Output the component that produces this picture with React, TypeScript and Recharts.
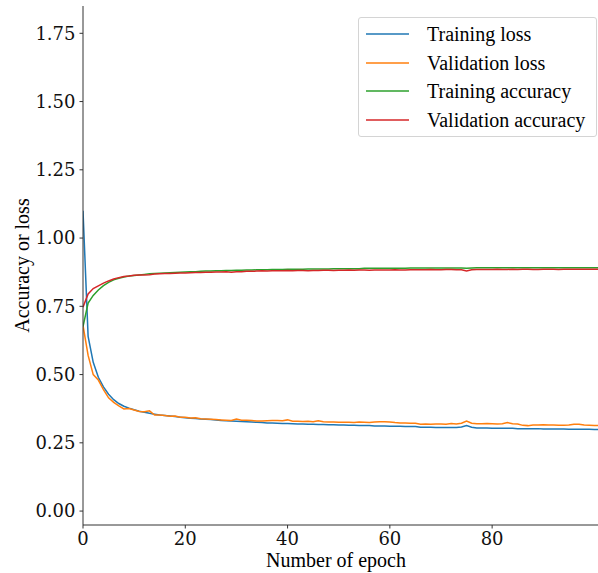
import React from 'react';
import { LineChart, Line, XAxis, YAxis, Legend } from 'recharts';

const epochs: number[] = Array.from({ length: 102 }, (_, i) => i);

const trainingLoss: number[] = [
  1.100, 0.640, 0.545, 0.490, 0.455, 0.428, 0.408, 0.394, 0.384, 0.377,
  0.371, 0.366, 0.362, 0.358, 0.355, 0.352, 0.350, 0.348, 0.346, 0.344,
  0.342, 0.340, 0.339, 0.337, 0.336, 0.335, 0.334, 0.332, 0.331, 0.330,
  0.329, 0.328, 0.327, 0.326, 0.325, 0.324, 0.323, 0.323, 0.322, 0.321,
  0.321, 0.320, 0.319, 0.319, 0.318, 0.318, 0.317, 0.317, 0.316, 0.316,
  0.315, 0.315, 0.314, 0.314, 0.313, 0.313, 0.313, 0.312, 0.312, 0.312,
  0.311, 0.311, 0.311, 0.310, 0.310, 0.310, 0.307, 0.307, 0.307, 0.306,
  0.306, 0.306, 0.306, 0.306, 0.308, 0.313, 0.307, 0.304, 0.304, 0.304,
  0.303, 0.303, 0.303, 0.303, 0.303, 0.302, 0.302, 0.302, 0.302, 0.302,
  0.301, 0.301, 0.301, 0.301, 0.301, 0.300, 0.300, 0.300, 0.300, 0.300,
  0.299, 0.299,
];

const validationLoss: number[] = [
  0.680, 0.570, 0.500, 0.480, 0.445, 0.415, 0.398, 0.385, 0.374, 0.376,
  0.370, 0.365, 0.364, 0.367, 0.352, 0.352, 0.350, 0.347, 0.348, 0.344,
  0.344, 0.341, 0.342, 0.338, 0.337, 0.336, 0.335, 0.334, 0.333, 0.332,
  0.337, 0.333, 0.333, 0.332, 0.330, 0.330, 0.331, 0.332, 0.332, 0.331,
  0.334, 0.329, 0.329, 0.328, 0.329, 0.327, 0.331, 0.327, 0.326, 0.326,
  0.325, 0.325, 0.325, 0.324, 0.326, 0.325, 0.324, 0.326, 0.327, 0.327,
  0.326, 0.324, 0.323, 0.323, 0.322, 0.322, 0.318, 0.319, 0.318, 0.319,
  0.319, 0.318, 0.321, 0.319, 0.322, 0.330, 0.322, 0.320, 0.320, 0.321,
  0.320, 0.319, 0.320, 0.324, 0.320, 0.319, 0.314, 0.313, 0.315, 0.315,
  0.316, 0.315, 0.315, 0.314, 0.314, 0.315, 0.318, 0.318, 0.315, 0.314,
  0.313, 0.313,
];

const trainingAccuracy: number[] = [
  0.676, 0.762, 0.790, 0.810, 0.826, 0.838, 0.847, 0.853, 0.857, 0.861,
  0.863, 0.865, 0.867, 0.869, 0.870, 0.871, 0.872, 0.873, 0.874, 0.875,
  0.876, 0.877, 0.877, 0.878, 0.879, 0.879, 0.880, 0.880, 0.881, 0.881,
  0.882, 0.882, 0.883, 0.883, 0.884, 0.884, 0.884, 0.885, 0.885, 0.885,
  0.886, 0.886, 0.886, 0.886, 0.887, 0.887, 0.887, 0.887, 0.887, 0.888,
  0.888, 0.888, 0.888, 0.888, 0.888, 0.889, 0.889, 0.889, 0.889, 0.889,
  0.889, 0.889, 0.889, 0.889, 0.890, 0.890, 0.890, 0.890, 0.890, 0.890,
  0.890, 0.890, 0.890, 0.890, 0.890, 0.889, 0.890, 0.891, 0.891, 0.891,
  0.891, 0.891, 0.891, 0.891, 0.891, 0.891, 0.891, 0.891, 0.891, 0.891,
  0.891, 0.891, 0.891, 0.891, 0.891, 0.891, 0.891, 0.891, 0.891, 0.891,
  0.891, 0.891,
];

const validationAccuracy: number[] = [
  0.747, 0.795, 0.815, 0.825, 0.835, 0.843, 0.850, 0.855, 0.859, 0.861,
  0.864, 0.865, 0.865, 0.866, 0.868, 0.869, 0.870, 0.870, 0.871, 0.872,
  0.872, 0.873, 0.874, 0.874, 0.875, 0.875, 0.876, 0.876, 0.877, 0.875,
  0.877, 0.877, 0.878, 0.878, 0.879, 0.880, 0.879, 0.880, 0.880, 0.880,
  0.881, 0.880, 0.881, 0.881, 0.880, 0.881, 0.881, 0.882, 0.882, 0.881,
  0.882, 0.882, 0.883, 0.882, 0.883, 0.883, 0.882, 0.883, 0.883, 0.883,
  0.883, 0.884, 0.883, 0.883, 0.884, 0.884, 0.884, 0.884, 0.885, 0.884,
  0.884, 0.885, 0.885, 0.884, 0.884, 0.879, 0.884, 0.885, 0.885, 0.885,
  0.885, 0.886, 0.885, 0.885, 0.886, 0.885, 0.886, 0.886, 0.885, 0.885,
  0.886, 0.886, 0.886, 0.885, 0.886, 0.886, 0.886, 0.886, 0.886, 0.886,
  0.886, 0.886,
];

const xTicks: number[] = [0, 20, 40, 60, 80];
const yTicks: number[] = [0, 0.25, 0.5, 0.75, 1.0, 1.25, 1.5, 1.75];

const seriesNames: string[] = ['Training loss', 'Validation loss', 'Training accuracy', 'Validation accuracy'];
const seriesKeys: string[] = ['trainLoss', 'valLoss', 'trainAcc', 'valAcc'];
const seriesColors: string[] = ['#1f77b4', '#ff7f0e', '#2ca02c', '#d62728'];

const data = epochs.map((e, i) => ({
  epoch: e,
  trainLoss: trainingLoss[i],
  valLoss: validationLoss[i],
  trainAcc: trainingAccuracy[i],
  valAcc: validationAccuracy[i],
}));

const SERIF = '"Liberation Serif", "Times New Roman", serif';
const TICK_FONT = '"DejaVu Serif", serif';

const LegendBox = () => (
  <div
    style={{
      width: 239,
      height: 120,
      boxSizing: 'border-box',
      border: '1px solid #d4d4d4',
      borderRadius: 3,
      background: 'rgba(255,255,255,0.85)',
      position: 'relative',
    }}
  >
    {seriesNames.map((n, i) => (
      <div
        key={n}
        style={{
          position: 'absolute',
          left: 0,
          top: 2 + i * 28.6,
          height: 28,
          display: 'flex',
          alignItems: 'center',
        }}
      >
        <svg width={60} height={28} style={{ display: 'block' }}>
          <line x1={7} x2={50} y1={14} y2={14} stroke={seriesColors[i]} strokeWidth={1.5} />
        </svg>
        <span
          style={{
            marginLeft: 8,
            fontFamily: SERIF,
            fontSize: 20,
            color: '#000',
            whiteSpace: 'nowrap',
            lineHeight: '28px',
          }}
        >
          {n}
        </span>
      </div>
    ))}
  </div>
);

const YLabel = (props: any) => {
  const vb = props.viewBox || { x: 0, y: 6, width: 83, height: 519 };
  const cx = 22;
  const cy = vb.y + vb.height / 2;
  return (
    <text
      x={cx}
      y={cy}
      transform={`rotate(-90, ${cx}, ${cy})`}
      textAnchor="middle"
      dominantBaseline="central"
      fontFamily={SERIF}
      fontSize={20}
      fill="#000"
    >
      Accuracy or loss
    </text>
  );
};

const XLabel = () => (
  <text x={336} y={567} textAnchor="middle" fontFamily={SERIF} fontSize={20} fill="#000">
    Number of epoch
  </text>
);

export default function App() {
  return (
    <div style={{ position: 'absolute', left: 0, top: 0, width: 598, height: 573, background: '#fff' }}>
      <LineChart
        width={598}
        height={573}
        data={data}
        margin={{ top: 6, right: 0, left: 0, bottom: 0 }}
      >
        <XAxis
          xAxisId="top"
          orientation="top"
          dataKey="epoch"
          type="number"
          domain={[0, 100.7]}
          allowDataOverflow
          height={0}
          tick={false}
          tickLine={false}
          axisLine={{ stroke: '#333', strokeWidth: 1 }}
        />
        <XAxis
          dataKey="epoch"
          type="number"
          domain={[0, 100.7]}
          allowDataOverflow
          ticks={xTicks}
          height={48}
          tickSize={3.5}
          tickMargin={3.7}
          tickLine={{ stroke: '#333', strokeWidth: 1 }}
          axisLine={{ stroke: '#333', strokeWidth: 1 }}
          tick={{ fontFamily: TICK_FONT, fontSize: 18, fill: '#111' }}
          label={<XLabel />}
        />
        <YAxis
          type="number"
          domain={[-0.051, 1.85]}
          allowDataOverflow
          ticks={yTicks}
          width={83}
          tickSize={3.5}
          tickMargin={4}
          tickFormatter={(v: number) => v.toFixed(2)}
          tickLine={{ stroke: '#333', strokeWidth: 1 }}
          axisLine={{ stroke: '#333', strokeWidth: 1 }}
          tick={{ fontFamily: TICK_FONT, fontSize: 18, fill: '#111' }}
          label={<YLabel />}
        />
        {seriesKeys.map((k, i) => (
          <Line
            key={k}
            dataKey={k}
            name={seriesNames[i]}
            stroke={seriesColors[i]}
            strokeWidth={1.5}
            dot={false}
            activeDot={false}
            type="linear"
            isAnimationActive={false}
          />
        ))}
        <Legend
          layout="vertical"
          align="center"
          verticalAlign="middle"
          content={() => <LegendBox />}
          wrapperStyle={{ position: 'absolute', left: 358, top: 17, width: 239, height: 120 }}
        />
      </LineChart>
    </div>
  );
}
